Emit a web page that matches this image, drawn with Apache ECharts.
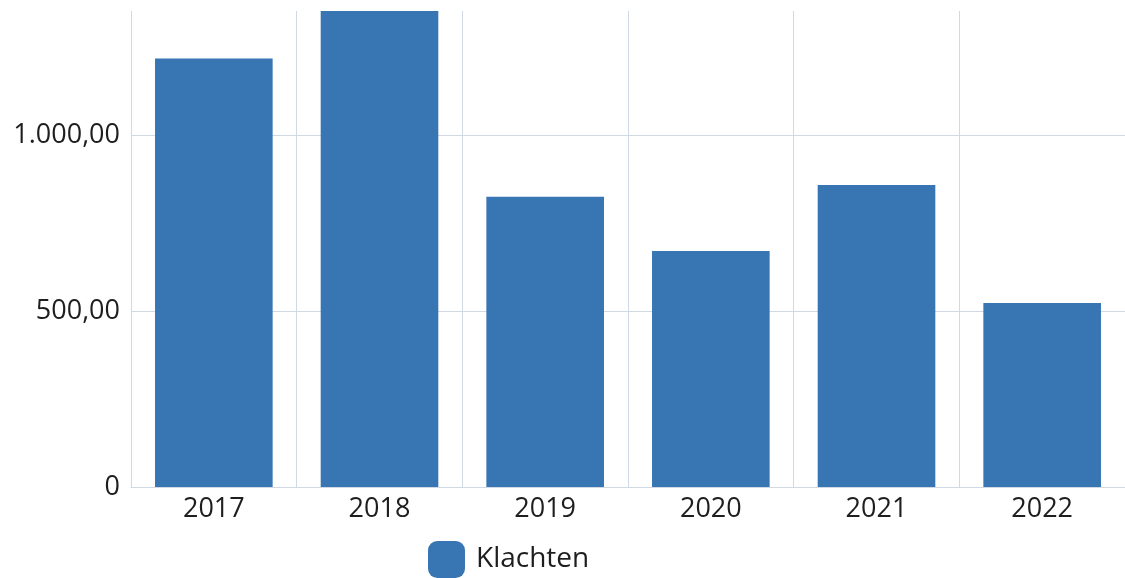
<!DOCTYPE html>
<html>
<head>
<meta charset="utf-8">
<script src="https://cdn.jsdelivr.net/npm/echarts@6/dist/echarts.min.js"></script>
<style>
  html, body { margin: 0; padding: 0; background: #fff; }
  #chart { width: 1125px; height: 578px; }
</style>
</head>
<body>
<div id="chart"></div>
<script>
const years = ['2017', '2018', '2019', '2020', '2021', '2022']
const klachten = [1220, 1400, 826, 672, 860, 524]
const yTicks = [0, 500, 1000]

const chart = echarts.init(document.getElementById('chart'))

function fmt(v) {
  if (v === 0) return '0'
  const parts = v.toFixed(2).split('.')
  const intPart = parts[0].replace(/\B(?=(\d{3})+(?!\d))/g, '.')
  return intPart + ',' + parts[1]
}

chart.setOption({
  animation: false,
  textStyle: { fontFamily: 'Open Sans' },
  grid: { left: 131, right: -3, top: 11, bottom: 91 },
  legend: {
    data: ['Klachten'],
    left: 423,
    top: 536,
    icon: 'roundRect',
    itemWidth: 37,
    itemHeight: 37,
    itemGap: 10,
    textStyle: { fontSize: 28, color: '#1e1e1e', fontFamily: 'Open Sans', padding: [0, 0, 0, 6] }
  },
  xAxis: {
    type: 'category',
    data: years,
    axisLine: { lineStyle: { color: '#cfd8e3' } },
    axisTick: { show: false },
    splitLine: { show: true, lineStyle: { color: '#cfd8e3' } },
    axisLabel: { fontSize: 27, color: '#1e1e1e', margin: 9 }
  },
  yAxis: {
    type: 'value',
    min: 0,
    max: 1355,
    interval: 500,
    axisLine: { show: false },
    axisTick: { show: false },
    splitLine: { showMaxLine: false, lineStyle: { color: '#cfd8e3' } },
    axisLabel: {
      fontSize: 27,
      color: '#1e1e1e',
      margin: 11,
      showMaxLabel: false,
      formatter: function (v) {
        return yTicks.indexOf(v) >= 0 ? fmt(v) : ''
      }
    }
  },
  series: [{
    name: 'Klachten',
    type: 'bar',
    data: klachten,
    barCategoryGap: '29%',
    itemStyle: { color: '#3776b3' }
  }]
})
</script>
</body>
</html>
